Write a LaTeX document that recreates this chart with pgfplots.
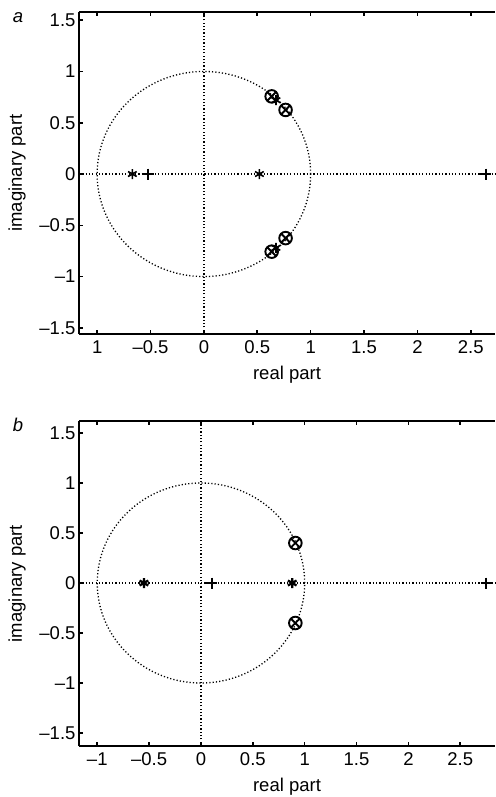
\documentclass[border=0pt]{standalone}
\usepackage{fontspec}
\setmainfont{Liberation Sans}
\usepackage{pgfplots}
\pgfplotsset{compat=1.18}
\begin{document}
\begin{tikzpicture}[font=\fontsize{18.5}{22}\selectfont]
\useasboundingbox (0pt,0pt) rectangle (495pt,-797pt);
\tikzset{
  ref/.style={black, line width=1.3pt, dash pattern=on 1.2pt off 2.1pt},
  zer/.style={only marks, mark=otimes, mark size=6.3pt, black, line width=1.9pt},
  ast/.style={only marks, mark=asterisk, mark size=5pt, black, line width=1.6pt},
  pls/.style={only marks, mark=+, mark size=5.5pt, black, line width=2.2pt},
}
\pgfplotsset{
  pz/.style={
    scale only axis,
    width=416pt,
    axis x line*=box,
    axis y line*=left,
    axis line style={line width=1.6pt},
    tick align=inside,
    major tick length=4pt,
    tick style={line width=1.6pt, black},
    ytick={-1.5,-1,...,1.5},
    yticklabels={--1.5,--1,--0.5,0,0.5,1,1.5},
    xticklabel style={yshift=-3pt},
    xlabel={real part},
    ylabel={imaginary part},
    ylabel style={at={(axis description cs:-0.149,0.5)}, anchor=center},
    clip=false,
  },
}
% panel a
\begin{axis}[pz,
  at={(79pt,-334pt)}, anchor=south west, height=322pt,
  xmin=-1.17, xmax=2.727, ymin=-1.56, ymax=1.58,
  xtick={-1,-0.5,...,2.5},
  xticklabels={1,--0.5,0,0.5,1,1.5,2,2.5},
  xlabel style={at={(axis description cs:0.5,-0.127)}, anchor=center},
]
\addplot[ref] coordinates {(-1.17,0) (2.727,0)};
\addplot[ref] coordinates {(0,-1.56) (0,1.58)};
\draw[ref] (axis cs:0,0) ellipse [x radius=1, y radius=1];
\addplot[ast] coordinates {(-0.67,0) (0.52,0) (0.675,0.72) (0.675,-0.72)};
\addplot[pls] coordinates {(-0.52,0) (2.64,0)};
\addplot[zer] coordinates {(0.635,0.757) (0.765,0.625) (0.635,-0.757) (0.765,-0.625)};
\end{axis}
\node[font=\fontsize{18.5}{22}\selectfont\itshape] at (18pt,-18pt) {a};
% panel b
\begin{axis}[pz,
  at={(79pt,-746pt)}, anchor=south west, height=325pt,
  xmin=-1.176, xmax=2.835, ymin=-1.63, ymax=1.62,
  xtick={-1,-0.5,...,2.5},
  xticklabels={--1,--0.5,0,0.5,1,1.5,2,2.5},
  xlabel style={at={(axis description cs:0.5,-0.126)}, anchor=center},
]
\addplot[ref] coordinates {(-1.176,0) (2.835,0)};
\addplot[ref] coordinates {(0,-1.63) (0,1.62)};
\draw[ref] (axis cs:0,0) ellipse [x radius=1, y radius=1];
\addplot[ast, line width=2.3pt] coordinates {(-0.55,0) (0.88,0)};
\addplot[pls] coordinates {(0.105,0) (2.75,0)};
\addplot[zer] coordinates {(0.91,0.40) (0.91,-0.40)};
\end{axis}
\node[font=\fontsize{18.5}{22}\selectfont\itshape] at (18pt,-425pt) {b};
\end{tikzpicture}
\end{document}
